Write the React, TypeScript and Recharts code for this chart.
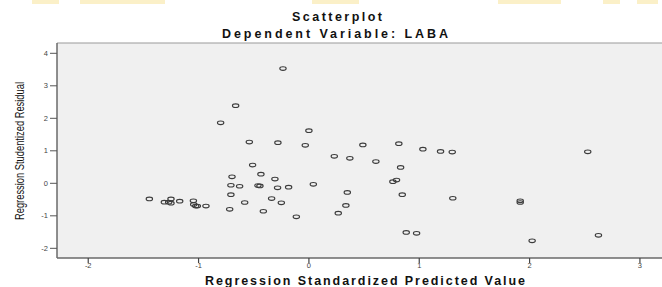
import React from "react";
import {
  ScatterChart,
  Scatter,
  XAxis,
  YAxis,
  ReferenceArea,
  ReferenceLine,
  Label,
} from "recharts";

// Regression standardized predicted values (x) and studentized residuals (y)
const predicted: number[] = [
  -0.235, -0.664, -0.8, 0.0, -0.54, -0.281, -0.033, 0.23, -0.51, -0.435,
  -0.697, -0.308, -0.707, -0.628, -0.462, -0.444, -0.284, -0.184, 0.04, -0.707,
  -0.338, -0.582, -0.25, -0.718, -0.413, -0.114, 0.266, -1.446, -1.31, -1.271,
  -1.25, -1.25, -1.171, -1.047, -1.044, -1.026, -1.011, -0.933, 0.489, 0.815,
  1.033, 1.193, 1.299, 2.527, 0.371, 0.607, 0.831, 0.794, 0.761, 0.348,
  0.846, 1.304, 1.915, 1.915, 0.335, 0.882, 0.976, 2.023, 2.624,
];
const residuals: number[] = [
  3.53, 2.39, 1.86, 1.62, 1.27, 1.25, 1.17, 0.83, 0.56, 0.28,
  0.2, 0.13, -0.06, -0.09, -0.07, -0.08, -0.14, -0.12, -0.03, -0.35,
  -0.47, -0.59, -0.6, -0.8, -0.86, -1.03, -0.92, -0.48, -0.58, -0.58,
  -0.48, -0.61, -0.55, -0.54, -0.65, -0.7, -0.7, -0.7, 1.18, 1.22,
  1.05, 0.98, 0.96, 0.97, 0.77, 0.67, 0.49, 0.1, 0.05, -0.28,
  -0.35, -0.46, -0.54, -0.59, -0.68, -1.51, -1.54, -1.77, -1.6,
];
const xTicks: number[] = [-2, -1, 0, 1, 2, 3];
const yTicks: number[] = [-2, -1, 0, 1, 2, 3, 4];
const xDomain: [number, number] = [-2.283, 3.2];
const yDomain: [number, number] = [-2.298, 4.317];

const chartTitle = "Scatterplot";
const chartSubtitle = "Dependent Variable: LABA";
const xTitle = "Regression Standardized Predicted Value";
const yTitle = "Regression Studentized Residual";

const data = predicted.map((x, i) => ({ x, y: residuals[i] }));

const FONT = "'Liberation Sans', Arial, sans-serif";

const stripes: [number, number][] = [
  [32, 27], [80, 85], [312, 47], [498, 63], [603, 17], [637, 21],
];

const Marker = (props: any) => {
  const { cx, cy } = props;
  if (cx == null || cy == null) return null;
  return (
    <ellipse cx={cx} cy={cy} rx={3.2} ry={1.8} fill="none" stroke="#3c3c3c" strokeWidth={1.1} />
  );
};

const XTitleContent = () => (
  <g>
    <text x={365} y={285} textAnchor="middle" fontFamily={FONT} fontSize={12.5} fontWeight="bold" fill="#111"
      textLength={320} lengthAdjust="spacing">
      {xTitle}
    </text>
    <text x={337} y={20.5} textAnchor="middle" fontFamily={FONT} fontSize={12.5} fontWeight="bold" fill="#111"
      textLength={90} lengthAdjust="spacing">
      {chartTitle}
    </text>
    <text x={335} y={38} textAnchor="middle" fontFamily={FONT} fontSize={12.5} fontWeight="bold" fill="#111"
      textLength={226} lengthAdjust="spacing">
      {chartSubtitle}
    </text>
  </g>
);

const YTitleContent = () => (
  <text x={23.5} y={151} transform="rotate(-90, 23.5, 151)" textAnchor="middle"
    fontFamily="'Liberation Sans Narrow', 'Liberation Sans', Arial, sans-serif" fontSize={12} fill="#111"
    textLength={138} lengthAdjust="spacingAndGlyphs">
    {yTitle}
  </text>
);

export default function App() {
  return (
    <div style={{ position: "absolute", left: 0, top: 0, width: 662, height: 287, background: "#fff" }}>
      {stripes.map(([l, w], i) => (
        <div key={i} style={{ position: "absolute", left: l, top: 0, width: w, height: 4, background: "#fbf0c8" }} />
      ))}
      <ScatterChart width={662} height={287} margin={{ top: 43, right: 0, bottom: 0, left: 0 }}>
        <ReferenceArea x1={xDomain[0]} x2={xDomain[1] + 0.05} y1={yDomain[0]} y2={yDomain[1]}
          fill="#f0f0f0" fillOpacity={1} stroke="none" ifOverflow="visible" />
        <ReferenceLine y={yDomain[1]} stroke="#9a9a9a" strokeWidth={1.2} ifOverflow="visible" />
        <XAxis type="number" dataKey="x" domain={xDomain} ticks={xTicks} allowDataOverflow
          height={29} tickSize={5} tickMargin={0} interval={0}
          axisLine={{ stroke: "#6a6a6a", strokeWidth: 1.5 }} tickLine={{ stroke: "#444", strokeWidth: 1.2 }}
          tick={{ fontSize: 7.5, fill: "#444", fontFamily: FONT }}>
          <Label content={<XTitleContent />} />
        </XAxis>
        <YAxis type="number" dataKey="y" domain={yDomain} ticks={yTicks} allowDataOverflow
          width={57} tickSize={7} tickMargin={2} interval={0}
          axisLine={{ stroke: "#6a6a6a", strokeWidth: 1.5 }} tickLine={{ stroke: "#555", strokeWidth: 1 }}
          tick={{ fontSize: 7.5, fill: "#444", fontFamily: FONT }}>
          <Label content={<YTitleContent />} />
        </YAxis>
        <Scatter data={data} shape={<Marker />} isAnimationActive={false} />
      </ScatterChart>
    </div>
  );
}
